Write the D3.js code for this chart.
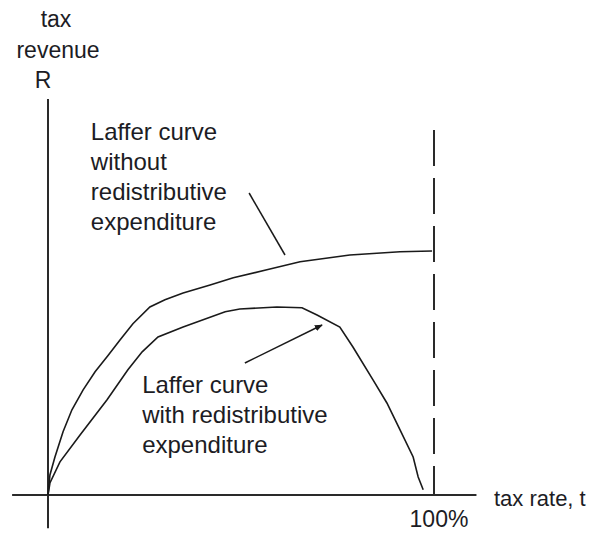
<!DOCTYPE html>
<html>
<head>
<meta charset="utf-8">
<script src="https://cdn.jsdelivr.net/npm/d3@7"></script>
<style>
  html, body { margin: 0; padding: 0; background: #fff; }
  svg { display: block; }
  text { font-family: Arial, "Liberation Sans", sans-serif; fill: #1c1c24; }
</style>
</head>
<body>
<svg id="chart" width="608" height="533"></svg>
<script>
// ---- data (tax rate t in %, revenue R in arbitrary units) ----
const withoutT = [0, 0.5, 1.8, 3.9, 6.2, 9.1, 12.2, 15.5, 18.7, 22, 26.4, 30.3, 35, 42, 48, 56.7, 65.3, 78.2, 91.2, 99.5];
const withoutR = [0, 5, 9.5, 15.8, 21.3, 26.3, 30.8, 34.8, 38.8, 42.8, 47, 48.8, 50.5, 52.5, 54.3, 56.3, 58.3, 60, 60.8, 61];
const withT = [0, 0.5, 3.1, 8.3, 15.3, 20.7, 24.4, 28.5, 35, 45.9, 49.7, 59.3, 65.8, 69.7, 75.6, 79, 84.2, 87.8, 91.2, 94.6, 95.9, 97.2];
const withR = [0, 3, 8.3, 15, 23.8, 31.3, 35.8, 39.5, 42, 45.8, 46.5, 47, 46.8, 45, 42, 37, 28.8, 23, 16.3, 9.5, 4.5, 1.3];
const maxRateT = 100;
const tickLabels = ["100%"];
const xAxisExtent = [-9.3, 111];
const yAxisExtent = [-8.3, 99];
const dashedTopR = 91.25;
const upperLabelLines = ["Laffer curve", "without", "redistributive", "expenditure"];
const lowerLabelLines = ["Laffer curve", "with redistributive", "expenditure"];
const yTitleLines = ["tax", "revenue", "R"];
const xTitle = "tax rate, t";
// annotation anchors in data units
const upperLabelPos = { t: 11.1, R: 88.75 };
const lowerLabelPos = { t: 24.4, R: 25.5 };
const upperPointer = [{ t: 52.1, R: 75.5 }, { t: 61.4, R: 60 }];
const lowerArrow = [{ t: 51, R: 33 }, { t: 71, R: 42.5 }];

// ---- scales ----
const svg = d3.select("#chart");
const x = d3.scaleLinear().domain([0, 100]).range([48, 434]);
const y = d3.scaleLinear().domain([0, 100]).range([495, 95]);

const ink = "#1a1a1a";
const fs = 24;
const lineGap = 30;

// axes
svg.append("line")
  .attr("x1", x(xAxisExtent[0])).attr("x2", x(xAxisExtent[1]))
  .attr("y1", y(0)).attr("y2", y(0))
  .attr("stroke", "#2a2a2a").attr("stroke-width", 2);
svg.append("line")
  .attr("x1", x(0)).attr("x2", x(0))
  .attr("y1", y(yAxisExtent[0])).attr("y2", y(yAxisExtent[1]))
  .attr("stroke", "#2a2a2a").attr("stroke-width", 2);

// dashed 100% line
svg.append("line")
  .attr("x1", x(maxRateT)).attr("x2", x(maxRateT))
  .attr("y1", y(dashedTopR)).attr("y2", y(0))
  .attr("stroke", "#2a2a2a").attr("stroke-width", 2)
  .attr("stroke-dasharray", "36,12");

// curves
const line = d3.line().x(d => x(d[0])).y(d => y(d[1])).curve(d3.curveLinear);
svg.append("path")
  .datum(withoutT.map((t, i) => [t, withoutR[i]]))
  .attr("d", line).attr("fill", "none")
  .attr("stroke", ink).attr("stroke-width", 1.6);
svg.append("path")
  .datum(withT.map((t, i) => [t, withR[i]]))
  .attr("d", line).attr("fill", "none")
  .attr("stroke", ink).attr("stroke-width", 1.6);

// arrow marker
svg.append("defs").append("marker")
  .attr("id", "arr").attr("viewBox", "0 0 10 10")
  .attr("refX", 9).attr("refY", 5)
  .attr("markerWidth", 8).attr("markerHeight", 8)
  .attr("markerUnits", "userSpaceOnUse")
  .attr("orient", "auto")
  .append("path").attr("d", "M0,1 L10,5 L0,9 Z").attr("fill", ink);

svg.append("line")
  .attr("x1", x(upperPointer[0].t)).attr("y1", y(upperPointer[0].R))
  .attr("x2", x(upperPointer[1].t)).attr("y2", y(upperPointer[1].R))
  .attr("stroke", ink).attr("stroke-width", 1.5);
svg.append("line")
  .attr("x1", x(lowerArrow[0].t)).attr("y1", y(lowerArrow[0].R))
  .attr("x2", x(lowerArrow[1].t)).attr("y2", y(lowerArrow[1].R))
  .attr("stroke", ink).attr("stroke-width", 1.5)
  .attr("marker-end", "url(#arr)");

// labels
function block(lines, px, py) {
  const g = svg.append("text").attr("font-size", fs);
  lines.forEach((s, i) => {
    g.append("tspan").attr("x", px).attr("y", py + i * lineGap).text(s);
  });
}
block(upperLabelLines, x(upperLabelPos.t), y(upperLabelPos.R));
block(lowerLabelLines, x(lowerLabelPos.t), y(lowerLabelPos.R));

// y title
const yTitleX = [56, 58, 43];
const yTitleY = [27, 58, 88];
yTitleLines.forEach((s, i) => {
  svg.append("text").attr("font-size", 23).attr("text-anchor", "middle")
    .attr("x", yTitleX[i]).attr("y", yTitleY[i]).text(s);
});

// x title and tick label
svg.append("text").attr("font-size", 22)
  .attr("x", 494).attr("y", y(0) + 11).text(xTitle);
svg.append("text").attr("font-size", 23).attr("text-anchor", "middle")
  .attr("x", x(maxRateT) + 5).attr("y", y(0) + 32).text(tickLabels[0]);
</script>
</body>
</html>
